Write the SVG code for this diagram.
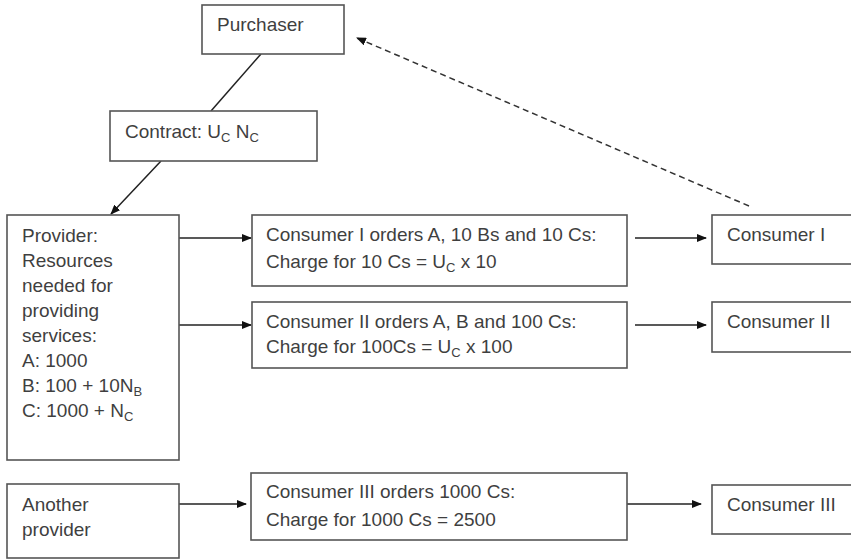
<svg xmlns="http://www.w3.org/2000/svg" width="851" height="560" viewBox="0 0 851 560">
<defs>
<marker id="ah" markerWidth="10" markerHeight="8" refX="9" refY="4" orient="auto" markerUnits="userSpaceOnUse">
<path d="M0,0 L10,4 L0,8 Z" fill="#111"/>
</marker>
<style>
.box{fill:#fff;stroke:#555;stroke-width:1.6}
.t{font-family:"Liberation Sans",Arial,sans-serif;font-size:19px;fill:#3f3f3f}
.s{font-size:13px}
.ln{stroke:#222;stroke-width:1.5;fill:none}
.dash{stroke:#333;stroke-width:1.5;fill:none;stroke-dasharray:6 4}
</style>
</defs>
<rect width="851" height="560" fill="#fff"/>
<g id="connectors">
<line class="ln" x1="261" y1="54" x2="211" y2="111"/>
<line class="ln" x1="161" y1="161" x2="111" y2="214" marker-end="url(#ah)"/>
<line class="ln" x1="179" y1="238" x2="251" y2="238" marker-end="url(#ah)"/>
<line class="ln" x1="179" y1="325" x2="251" y2="325" marker-end="url(#ah)"/>
<line class="ln" x1="635" y1="238" x2="706" y2="238" marker-end="url(#ah)"/>
<line class="ln" x1="635" y1="325" x2="706" y2="325" marker-end="url(#ah)"/>
<line class="ln" x1="179" y1="504" x2="246" y2="504" marker-end="url(#ah)"/>
<line class="ln" x1="627" y1="504" x2="701" y2="504" marker-end="url(#ah)"/>
<line class="dash" x1="749" y1="206" x2="357" y2="38" marker-end="url(#ah)"/>
</g>
<g id="purchaser">
<rect class="box" x="202" y="5" width="142" height="49"/>
<text class="t" x="217" y="31">Purchaser</text>
</g>
<g id="contract">
<rect class="box" x="110" y="111" width="207" height="50"/>
<text class="t" x="125" y="138">Contract: U<tspan class="s" dy="4">C</tspan><tspan dy="-4"> N</tspan><tspan class="s" dy="4">C</tspan></text>
</g>
<g id="provider">
<rect class="box" x="7" y="215" width="172" height="245"/>
<text class="t" x="22" y="242">Provider:</text>
<text class="t" x="22" y="267">Resources</text>
<text class="t" x="22" y="292">needed for</text>
<text class="t" x="22" y="317">providing</text>
<text class="t" x="22" y="342">services:</text>
<text class="t" x="22" y="367">A: 1000</text>
<text class="t" x="22" y="392">B: 100  + 10N<tspan class="s" dy="4">B</tspan></text>
<text class="t" x="22" y="417">C: 1000 + N<tspan class="s" dy="4">C</tspan></text>
</g>
<g id="order1">
<rect class="box" x="252" y="215" width="375" height="71"/>
<text class="t" x="266" y="241">Consumer I orders A, 10 Bs and 10 Cs:</text>
<text class="t" x="266" y="268">Charge for 10 Cs = U<tspan class="s" dy="4">C</tspan><tspan dy="-4"> x 10</tspan></text>
</g>
<g id="order2">
<rect class="box" x="252" y="302" width="375" height="66"/>
<text class="t" x="266" y="328">Consumer II orders A, B and 100 Cs:</text>
<text class="t" x="266" y="353">Charge for 100Cs = U<tspan class="s" dy="4">C</tspan><tspan dy="-4"> x 100</tspan></text>
</g>
<g id="consumer1">
<rect class="box" x="712" y="215" width="145" height="49"/>
<text class="t" x="727" y="241">Consumer I</text>
</g>
<g id="consumer2">
<rect class="box" x="712" y="302" width="145" height="50"/>
<text class="t" x="727" y="328">Consumer II</text>
</g>
<g id="another">
<rect class="box" x="7" y="484" width="172" height="74"/>
<text class="t" x="22" y="511">Another</text>
<text class="t" x="22" y="536">provider</text>
</g>
<g id="order3">
<rect class="box" x="251" y="473" width="376" height="67"/>
<text class="t" x="266" y="498">Consumer III orders 1000 Cs:</text>
<text class="t" x="266" y="526">Charge for 1000  Cs = 2500</text>
</g>
<g id="consumer3">
<rect class="box" x="712" y="485" width="145" height="49"/>
<text class="t" x="727" y="511">Consumer III</text>
</g>
</svg>
